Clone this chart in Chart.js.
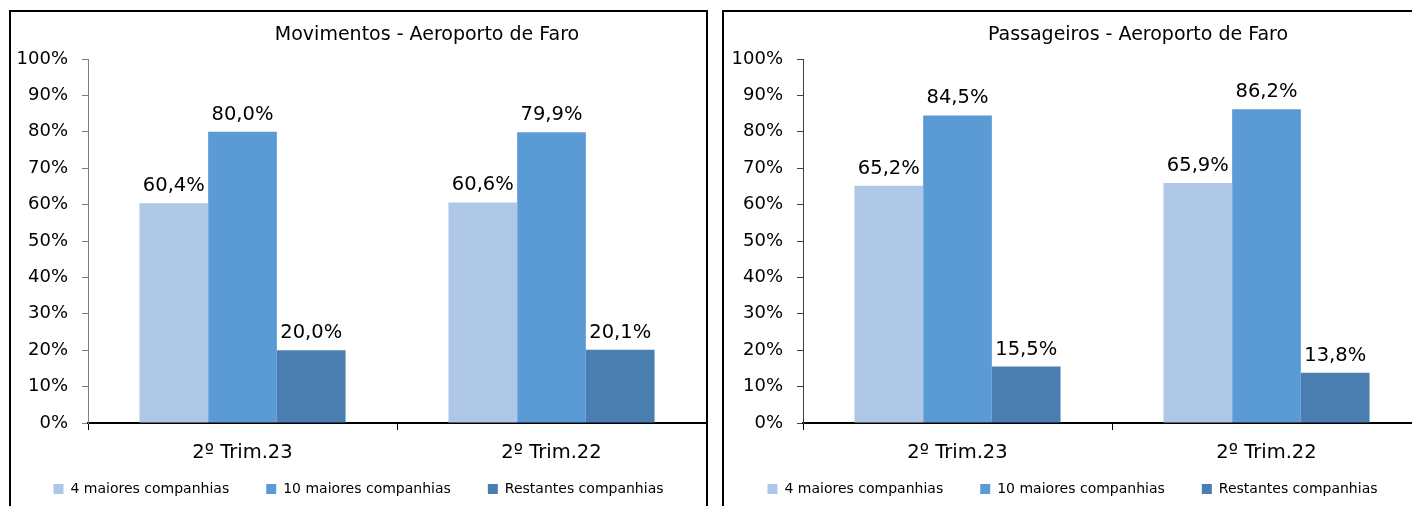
<!DOCTYPE html>
<html>
<head>
<meta charset="utf-8">
<script src="https://cdn.jsdelivr.net/npm/chart.js@4.4.1/dist/chart.umd.min.js"></script>
<style>
  body { margin: 0; background: #fff; overflow: hidden; width: 1412px; height: 506px; position: relative; }
  .box { position: absolute; top: 10px; height: 540px; border: 2px solid #000; box-sizing: border-box; }
  .box canvas { position: absolute; left: 0; top: 0; }
</style>
</head>
<body>
<div class="box" style="left:9px;width:699px"><canvas id="mov" width="695" height="516"></canvas></div>
<div class="box" style="left:722px;width:701px"><canvas id="pax" width="697" height="516"></canvas></div>
<script>
const categories = ["2º Trim.23", "2º Trim.22"];
const seriesNames = ["4 maiores companhias", "10 maiores companhias", "Restantes companhias"];

// Movimentos
const movTop4 = [60.4, 60.6];
const movTop10 = [80.0, 79.9];
const movRest = [20.0, 20.1];

// Passageiros
const paxTop4 = [65.2, 65.9];
const paxTop10 = [84.5, 86.2];
const paxRest = [15.5, 13.8];

const colors = ["#AEC7E7", "#5B9BD5", "#4A7EB0"];

Chart.defaults.font.family = '"DejaVu Sans", sans-serif';
Chart.defaults.color = "#000";

function fmt(v) {
  return v.toFixed(1).replace(".", ",") + "%";
}

// title drawn at a fixed x, the original is not centred on the box
const boxTitle = {
  id: "boxTitle",
  afterDraw(chart, args, opts) {
    const ctx = chart.ctx;
    ctx.save();
    ctx.font = '19px "DejaVu Sans"';
    ctx.fillStyle = "#000";
    ctx.textAlign = "center";
    ctx.textBaseline = "alphabetic";
    ctx.fillText(opts.text, opts.x, 28);
    ctx.restore();
  },
};

// pull the legend up closer to the axis labels (legend padding is big for item spacing)
const legendUp = {
  id: "legendUp",
  afterLayout(chart, args, opts) {
    const l = chart.legend;
    const d = opts.top - l.top;
    l.top += d;
    l.bottom += d;
  },
};

const valueLabels = {
  id: "valueLabels",
  afterDatasetsDraw(chart) {
    const ctx = chart.ctx;
    ctx.save();
    ctx.font = '19.5px "DejaVu Sans"';
    ctx.fillStyle = "#000";
    ctx.textAlign = "center";
    ctx.textBaseline = "alphabetic";
    chart.data.datasets.forEach((ds, i) => {
      chart.getDatasetMeta(i).data.forEach((bar, j) => {
        ctx.fillText(fmt(ds.data[j]), bar.x, bar.y - 12);
      });
    });
    ctx.restore();
  },
};

function makeChart(id, title, titleX, axisWidth, yAxisColor, d1, d2, d3) {
  return new Chart(document.getElementById(id), {
    type: "bar",
    data: {
      labels: categories,
      datasets: [d1, d2, d3].map((d, i) => ({
        label: seriesNames[i],
        data: d,
        backgroundColor: colors[i],
        borderWidth: 0,
        categoryPercentage: 0.667,
        barPercentage: 1.0,
      })),
    },
    options: {
      responsive: false,
      animation: false,
      layout: { padding: { top: 47, left: 0, right: 0, bottom: 0 } },
      scales: {
        x: {
          grid: { offset: true, drawOnChartArea: false, tickLength: 7, color: "#000" },
          border: { color: "#000", width: 2 },
          ticks: { font: { size: 19.5 }, padding: 11, color: "#000" },
          afterFit: (scale) => { scale.height = 44; },
        },
        y: {
          min: 0,
          max: 100,
          grid: { drawOnChartArea: false, tickLength: 6, color: yAxisColor },
          border: { color: yAxisColor, width: 1 },
          ticks: {
            stepSize: 10,
            font: { size: 18 },
            padding: 14,
            color: "#000",
            callback: (v) => v + "%",
          },
          afterFit: (scale) => { scale.width = axisWidth; },
        },
      },
      plugins: {
        legend: {
          position: "bottom",
          labels: {
            boxWidth: 10,
            boxHeight: 10,
            padding: 37,
            font: { size: 14 },
            color: "#000",
          },
        },
        legendUp: { top: 433 },
        tooltip: { enabled: false },
        boxTitle: { text: title, x: titleX },
      },
    },
    plugins: [boxTitle, valueLabels, legendUp],
  });
}

makeChart("mov", "Movimentos - Aeroporto de Faro", 416, 77, "#808080", movTop4, movTop10, movRest);
makeChart("pax", "Passageiros - Aeroporto de Faro", 414, 79, "#404040", paxTop4, paxTop10, paxRest);
</script>
</body>
</html>
